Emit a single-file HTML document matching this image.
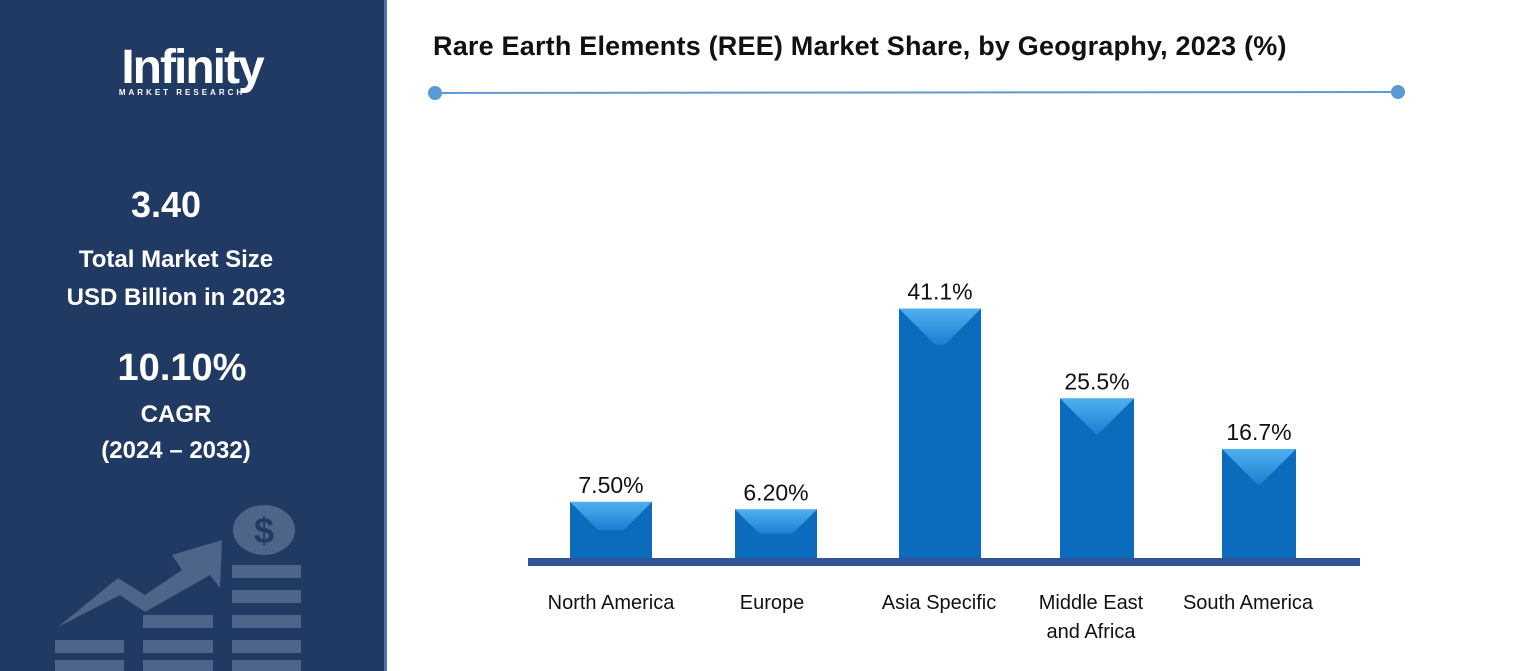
<!DOCTYPE html>
<html><head><meta charset="utf-8"><style>
body{margin:0;width:1517px;height:671px;overflow:hidden;background:#fff;font-family:"Liberation Sans",sans-serif;position:relative}
.side{position:absolute;left:0;top:0;width:384px;height:671px;background:#213a63;border-right:3px solid #4a74a8}
.t{position:absolute;color:#fff;font-weight:bold;text-align:center;width:340px;left:0}
</style></head><body>
<div class="side">
 <div class="t" style="top:40px;left:22px;font-size:48px;letter-spacing:-2px">Infinity</div>
 <div class="t" style="top:88px;left:12px;font-size:8px;letter-spacing:3px">MARKET RESEARCH</div>
 <div class="t" style="top:184px;left:-4px;font-size:36px">3.40</div>
 <div class="t" style="top:241px;left:6px;font-size:24px;line-height:38px">Total Market Size<br>USD Billion in 2023</div>
 <div class="t" style="top:347px;left:12px;font-size:38px">10.10%</div>
 <div class="t" style="top:397px;left:6px;font-size:24px;line-height:36px">CAGR<br>(2024 – 2032)</div>
 <svg width="384" height="671" style="position:absolute;left:0;top:0">
  <g fill="#4e6489">
   <ellipse cx="264" cy="530" rx="31" ry="25"/>
   <rect x="55" y="640" width="69" height="13"/><rect x="55" y="660" width="69" height="13"/>
   <rect x="143" y="615" width="70" height="13"/><rect x="143" y="640" width="70" height="13"/><rect x="143" y="660" width="70" height="13"/>
   <rect x="232" y="565" width="69" height="13"/><rect x="232" y="590" width="69" height="13"/><rect x="232" y="615" width="69" height="13"/><rect x="232" y="640" width="69" height="13"/><rect x="232" y="660" width="69" height="13"/>
   <polygon points="58,627 118,578 145,595 182,570 172,555 222,540 220,588 210,575 145,612 120,595"/>
  </g>
  <text x="264" y="543" fill="#213a63" font-size="36" font-weight="bold" text-anchor="middle" font-family="Liberation Sans">$</text>
 </svg>
</div>
<div style="position:absolute;left:433px;top:31px;font-size:27px;font-weight:bold;color:#111;letter-spacing:0.2px">Rare Earth Elements (REE) Market Share, by Geography, 2023 (%)</div>
<svg width="1517" height="671" style="position:absolute;left:0;top:0;pointer-events:none">
 <line x1="435" y1="93" x2="1398" y2="92" stroke="#5b9bd5" stroke-width="2"/>
 <circle cx="435" cy="93" r="7" fill="#5b9bd5"/><circle cx="1398" cy="92" r="7" fill="#5b9bd5"/>
</svg>
<svg id="chart" width="1517" height="671" style="position:absolute;left:0;top:0">
 <defs>
  <linearGradient id="top" x1="0" y1="0" x2="0" y2="1"><stop offset="0" stop-color="#4fb0f0"/><stop offset="1" stop-color="#1b7fd0"/></linearGradient>
 </defs>
</svg>
<script>
const categories=["North America","Europe","Asia Specific","Middle East|and Africa","South America"];
const values=[7.5,6.2,41.1,25.5,16.7];
const labels=["7.50%","6.20%","41.1%","25.5%","16.7%"];
const svg=document.getElementById('chart');
const NS='http://www.w3.org/2000/svg';
const base=558, scale=5.75, off=13;
const y=v=>base-off-v*scale;
const xc=i=>[611,776,940,1097,1259][i];
const lx=i=>[611,772,939,1091,1248][i];
const bw=i=>i<3?82:74;
function mk(t,a){const e=document.createElementNS(NS,t);for(const k in a)e.setAttribute(k,a[k]);svg.appendChild(e);return e;}
const ax=mk('rect',{x:528,y:558,width:832,height:8,fill:'#2f5597'});


values.forEach((v,i)=>{
 const w=bw(i),x0=xc(i)-w/2,yt=y(v),h=base-yt,b=Math.min(36,h/2);
 const g=document.createElementNS(NS,'g');svg.appendChild(g);
 
 
 const r=document.createElementNS(NS,'rect');
 [['x',x0],['y',yt],['width',w],['height',h],['fill','#0b6bbd']].forEach(p=>r.setAttribute(p[0],p[1]));g.appendChild(r);
 const p=document.createElementNS(NS,'polygon');
 p.setAttribute('points',`${x0},${yt} ${x0+w},${yt} ${x0+w-b},${yt+b} ${x0+b},${yt+b}`);
 p.setAttribute('fill','url(#top)');g.appendChild(p);
 const t=mk('text',{x:xc(i),y:yt-9,'font-size':23,'text-anchor':'middle',fill:'#111','font-family':'Liberation Sans'});
 t.textContent=labels[i];
 
 
 categories[i].split('|').forEach((ln,j)=>{
  const c=mk('text',{x:lx(i),y:609+j*29,'font-size':20,'text-anchor':'middle',fill:'#111','font-family':'Liberation Sans'});
  c.textContent=ln;
  
  
 });
});
</script>
</body></html>
